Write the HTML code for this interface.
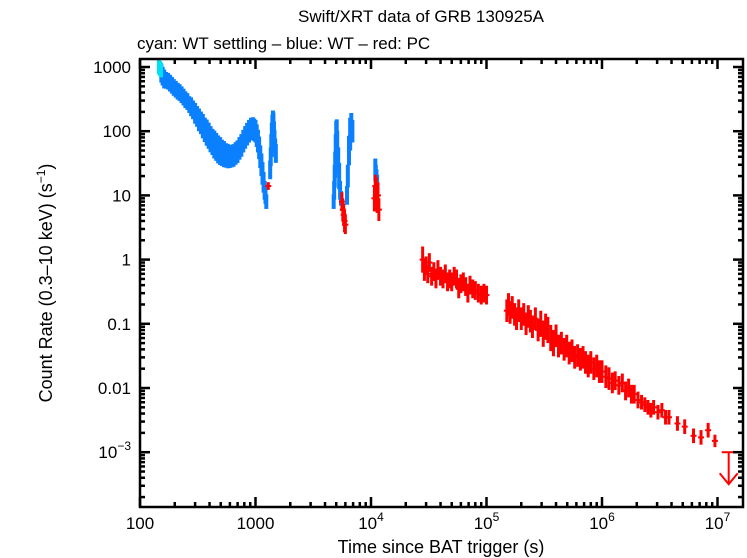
<!DOCTYPE html>
<html><head><meta charset="utf-8"><style>
html,body{margin:0;padding:0;background:#fff}
svg{display:block;font-family:"Liberation Sans",sans-serif}
</style></head><body>
<svg id="chart" width="747" height="558" viewBox="0 0 747 558" xmlns="http://www.w3.org/2000/svg">
<text x="421" y="22" font-size="17" text-anchor="middle">Swift/XRT data of GRB 130925A</text>
<text x="137" y="49" font-size="17">cyan: WT settling – blue: WT – red: PC</text>
<text x="441" y="553" font-size="18" text-anchor="middle">Time since BAT trigger (s)</text>
<text transform="translate(52,283) rotate(-90)" font-size="18" text-anchor="middle">Count Rate (0.3–10 keV) (s<tspan font-size="12" dy="-7">−1</tspan><tspan dy="7">)</tspan></text>
<g id="marks"></g>
<g id="axes"></g>
</svg>
<script>
const xDecadeLabels=["100","1000","10^4","10^5","10^6","10^7"];
const yDecadeLabels=["10^-3","0.01","0.1","1","10","100","1000"];
const tCyan=[146,149,152];
const rCyan=[1000,950,900];
const fCyan=[1.3,1.3,1.3];
const tBlue=[153,157,162,168,175,182,189,196,204,212,220,229,238,247,257,267,277,288,300,312,324,337,350,364,378,393,408,424,440,457,475,494,513,533,554,576,598,622,646,672,698,726,754,784,814,846,879,914,950,975,1000,1025,1050,1075,1100,1125,1150,1175,1200,1220,1240,1340,1355,1370,1385,1400,1415,1430,1445,1460,1480,1500,4750,4800,4850,4900,4950,5000,5050,5100,5200,5300,5400,5500,6200,6300,6450,6600,6750,6900,10900,11000,11150,11300];
const rBlue=[800,720,650,620,600,560,520,480,450,420,400,370,340,310,290,260,240,215,190,170,150,135,120,105,95,85,75,68,62,57,52,49,46,44,42,41,40,41,42,45,48,54,60,70,80,90,100,108,110,105,100,85,70,55,40,30,22,16,12,10,8,25,40,60,90,120,140,130,95,70,55,45,8,12,20,30,50,80,90,60,35,20,12,9,10,20,50,90,120,100,25,20,17,15];
const fBlue=[1.4,1.4,1.4,1.35,1.35,1.35,1.35,1.35,1.35,1.35,1.35,1.35,1.35,1.35,1.35,1.35,1.4,1.4,1.45,1.45,1.5,1.5,1.55,1.55,1.6,1.6,1.6,1.6,1.65,1.65,1.65,1.65,1.6,1.6,1.55,1.55,1.5,1.5,1.5,1.5,1.5,1.5,1.5,1.5,1.5,1.5,1.5,1.5,1.5,1.5,1.5,1.5,1.5,1.5,1.5,1.5,1.5,1.45,1.4,1.35,1.3,1.4,1.4,1.5,1.5,1.5,1.5,1.5,1.5,1.5,1.4,1.4,1.3,1.4,1.5,1.6,1.8,1.8,1.7,1.7,1.6,1.6,1.4,1.3,1.4,1.5,1.7,1.8,1.6,1.5,1.5,1.5,1.5,1.4];
const tRed=[1290,5600,5700,5800,5900,6000,10700,10900,11100,11300,11500,11700,28000,29000,30000,31000,32000,33500,35000,36500,38000,40000,42000,44000,46000,48000,50000,52500,55000,57500,60000,63000,66000,69000,72000,76000,80000,85000,90000,95000,100000,150000,155000,160000,167000,175000,182000,190000,200000,210000,220000,230000,240000,250000,265000,280000,295000,310000,325000,340000,360000,380000,400000,420000,445000,470000,495000,520000,550000,580000,615000,650000,685000,720000,760000,800000,850000,900000,950000,1000000,1080000,1150000,1230000,1300000,1400000,1500000,1600000,1700000,1800000,1900000,2050000,2200000,2350000,2500000,2650000,2800000,3050000,3300000,3550000,3800000,4500000,5200000,6200000,7200000,8300000,9500000];
const rRed=[14,8,6,5,4,3.5,9,14,12,8,10,6,1.0,0.7,0.8,0.6,0.9,0.55,0.65,0.5,0.7,0.55,0.5,0.6,0.45,0.5,0.45,0.55,0.5,0.35,0.42,0.45,0.38,0.3,0.4,0.35,0.33,0.3,0.28,0.3,0.28,0.16,0.2,0.15,0.18,0.14,0.12,0.16,0.12,0.14,0.1,0.13,0.11,0.09,0.12,0.08,0.1,0.07,0.09,0.08,0.06,0.05,0.065,0.045,0.05,0.04,0.045,0.035,0.038,0.03,0.032,0.028,0.03,0.025,0.022,0.025,0.02,0.022,0.018,0.018,0.015,0.014,0.012,0.013,0.011,0.012,0.009,0.01,0.008,0.008,0.0065,0.006,0.0055,0.005,0.0045,0.005,0.0042,0.0045,0.0035,0.0035,0.0028,0.0025,0.0018,0.0017,0.0022,0.0015];
const fRed=[1.15,1.4,1.5,1.5,1.5,1.4,1.6,1.5,1.6,1.5,1.6,1.5,1.6,1.5,1.4,1.4,1.4,1.4,1.4,1.4,1.4,1.4,1.4,1.4,1.4,1.4,1.4,1.4,1.4,1.4,1.4,1.4,1.4,1.4,1.4,1.4,1.4,1.4,1.4,1.4,1.4,1.5,1.5,1.5,1.5,1.5,1.5,1.5,1.5,1.5,1.5,1.5,1.5,1.5,1.5,1.5,1.6,1.6,1.6,1.6,1.6,1.6,1.5,1.5,1.5,1.5,1.5,1.5,1.5,1.5,1.5,1.5,1.5,1.5,1.5,1.5,1.5,1.5,1.5,1.5,1.5,1.5,1.45,1.4,1.4,1.4,1.4,1.4,1.4,1.4,1.35,1.3,1.3,1.3,1.3,1.3,1.3,1.3,1.3,1.3,1.3,1.3,1.3,1.3,1.3,1.25];
const tLimit=[12500000];
const rLimit=[0.001];

const NS="http://www.w3.org/2000/svg";
const X0=140,X1=743,Y0=59,Y1=507;
const xMin=2,xMax=2+(X1-X0)/115.5;
const yMax=3+(67-Y0)/64.2,yMin=yMax-(Y1-Y0)/64.2;
function xs(t){return X0+(Math.log10(t)-xMin)/(xMax-xMin)*(X1-X0);}
function ys(r){return Y1-(Math.log10(r)-yMin)/(yMax-yMin)*(Y1-Y0);}
function mk(tag,a,parent){const e=document.createElementNS(NS,tag);for(const k in a)e.setAttribute(k,a[k]);parent.appendChild(e);return e;}
const marks=document.getElementById('marks'),axes=document.getElementById('axes');
function series(ts,rs,fs,color,name,w,cap){
  const g=mk('g',{},marks);
  
  
  ts.forEach((t,i)=>{
    const x=xs(t),lo=ys(rs[i]/fs[i]),hi=ys(rs[i]*fs[i]),y=ys(rs[i]);
    const v=mk('line',{x1:x,x2:x,y1:lo,y2:hi,stroke:color,'stroke-width':w},g);
    
    
    if(cap){
      const h=mk('line',{x1:x-cap,x2:x+cap,y1:y,y2:y,stroke:color,'stroke-width':2},g);
      
      
    }
  });
}
series(tBlue,rBlue,fBlue,'#0a80ff','wt-series',4,0);
series(tCyan,rCyan,fCyan,'#00e0f0','wt-settling-series',4,0);
series(tRed,rRed,fRed,'#ff0000','pc-series',3,3);
tLimit.forEach((t,i)=>{
  const x=xs(t),y=ys(rLimit[i]),y2=y+32;
  const g=mk('g',{stroke:'#ff0000','stroke-width':2,fill:'none'},marks);
  
  
  mk('line',{x1:x-7,x2:x+7,y1:y,y2:y},g);
  mk('line',{x1:x,x2:x,y1:y,y2:y2},g);
  mk('polyline',{points:`${x-9},${y2-11} ${x},${y2} ${x+9},${y2-11}`},g);
});
const fr=mk('rect',{x:X0,y:Y0,width:X1-X0,height:Y1-Y0,fill:'none',stroke:'#000','stroke-width':2.5},axes);


function lab(s,x,y,anchor,name){
  const t=mk('text',{x:x,y:y,'font-size':17,'text-anchor':anchor},axes);
  
  
  const p=s.split('^');
  t.appendChild(document.createTextNode(p[0]));
  if(p[1]){const sp=mk('tspan',{'font-size':12,dy:-8},t);sp.textContent=p[1].replace('-','−');}
}
for(let d=2;d<=7;d++){
  for(let m=1;m<10;m++){
    const t=m*Math.pow(10,d);const x=xs(t);if(x>X1)break;
    const L=m===1?10:5;
    mk('line',{x1:x,x2:x,y1:Y1,y2:Y1-L,stroke:'#000','stroke-width':2.5},axes);
    mk('line',{x1:x,x2:x,y1:Y0,y2:Y0+L,stroke:'#000','stroke-width':2.5},axes);
  }
  lab(xDecadeLabels[d-2],xs(Math.pow(10,d)),529,'middle','x-tick-label');
}
for(let d=-4;d<=3;d++){
  for(let m=1;m<10;m++){
    const r=m*Math.pow(10,d);const y=ys(r);if(y>Y1||y<Y0)continue;
    const L=m===1?10:5;
    mk('line',{x1:X0,x2:X0+L,y1:y,y2:y,stroke:'#000','stroke-width':2.5},axes);
    mk('line',{x1:X1,x2:X1-L,y1:y,y2:y,stroke:'#000','stroke-width':2.5},axes);
  }
  if(d>=-3) lab(yDecadeLabels[d+3],131,ys(Math.pow(10,d))+6,'end','y-tick-label');
}
</script>
</body></html>
